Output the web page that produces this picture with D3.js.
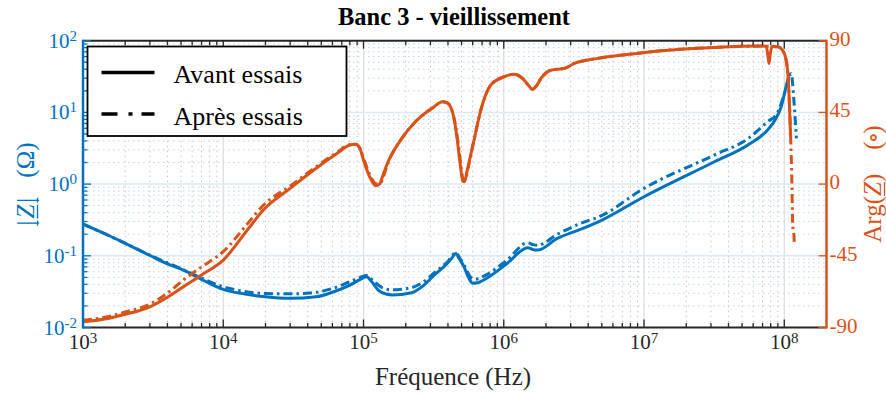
<!DOCTYPE html>
<html><head><meta charset="utf-8">
<script src="https://cdn.jsdelivr.net/npm/d3@7"></script>
<style>html,body{margin:0;padding:0;background:#fff;}svg{display:block;font-family:"Liberation Serif","Times New Roman",serif;}</style>
</head><body><svg id="c" width="886" height="396"></svg>
<script>
// ---------- DATA ----------
const magFreqBefore = [1e3,1.5e3,2e3,3e3,4e3,5.2e3,7e3,1e4,1.4e4,2e4,3e4,4.6e4,6e4,8e4,9.5e4,1.05e5,1.15e5,1.28e5,1.45e5,1.6e5,2.2e5,2.7e5,3.2e5,3.96e5,4.3e5,4.54e5,4.8e5,5.2e5,5.6e5,6e5,6.5e5,7.2e5,1.06e6,1.48e6,1.62e6,1.74e6,2.41e6,3.55e6,4.93e6,1e7,3.18e7,5.5e7,7.6e7,8.8e7,9.5e7,1.03e8,1.09e8];
const magBefore = [0.277,0.195,0.149,0.101,0.077,0.063,0.047,0.0341,0.0295,0.0268,0.0255,0.0268,0.031,0.039,0.047,0.051,0.043,0.033,0.0293,0.0285,0.0306,0.039,0.054,0.0786,0.095,0.108,0.092,0.0705,0.05,0.0413,0.042,0.046,0.0786,0.13,0.122,0.12,0.175,0.235,0.31,0.667,2.05,3.51,5.69,8.5,12,22.8,35];

const magFreqAfter = [1e3,2e3,3e3,5.2e3,7e3,1e4,1.4e4,2e4,3e4,4.6e4,6e4,8e4,9.5e4,1.05e5,1.2e5,1.4e5,1.6e5,2.2e5,2.7e5,3.2e5,3.96e5,4.54e5,4.9e5,5.3e5,5.8e5,6.2e5,7.2e5,1.06e6,1.48e6,1.62e6,1.74e6,2.41e6,3.55e6,4.93e6,1e7,3.18e7,5.5e7,7.6e7,8.9e7,1e8,1.08e8,1.12e8,1.17e8,1.22e8];
const magAfter = [0.277,0.15,0.102,0.064,0.049,0.037,0.032,0.0298,0.0295,0.031,0.035,0.0435,0.05,0.053,0.043,0.035,0.0335,0.036,0.044,0.058,0.082,0.11,0.09,0.07,0.05,0.047,0.052,0.088,0.152,0.143,0.14,0.2,0.284,0.36,0.873,2.55,4.3,7.4,9.7,18,30,35,15,4.35];

const phaseFreqBefore = [1e3,1.5e3,2e3,3e3,4e3,5.2e3,7e3,1e4,1.5e4,1.93e4,3e4,4.6e4,6.5e4,8e4,8.8e4,9.5e4,1e5,1.1e5,1.22e5,1.3e5,1.39e5,1.48e5,1.84e5,2.41e5,3.18e5,3.64e5,3.95e5,4.18e5,4.45e5,4.66e5,4.9e5,5.1e5,5.25e5,5.49e5,6.14e5,6.86e5,8.07e5,1e6,1.19e6,1.36e6,1.5e6,1.6e6,1.72e6,1.84e6,2.17e6,2.7e6,3.18e6,4.67e6,8.07e6,1.32e7,3.18e7,6.9e7,7.45e7,7.65e7,7.78e7,7.95e7,8.2e7,9e7,1e8,1.06e8,1.09e8,1.11e8];
const phaseBefore = [-86.4,-84.3,-81.7,-77,-71,-64.4,-57,-47.7,-28.3,-16.3,-2.7,9.9,19.3,24.5,25,21.5,15.1,5,-1,0,6.7,13,27.6,40.2,48.5,51.7,51,48.5,40,27.6,12,2,1.5,8.8,27.6,46.4,62.1,67.3,69,66.3,62,59.4,62,66.3,71.5,72.6,75.7,78.9,81.6,83.7,85.8,86.6,86.5,80,75.7,82,86.5,86.2,82,69.5,48.5,29.7];

const phaseFreqAfter = [1e3,1.5e3,2e3,3e3,4e3,5.2e3,7e3,1e4,1.5e4,1.93e4,3e4,4.6e4,6.5e4,8e4,8.8e4,9.5e4,1e5,1.1e5,1.25e5,1.33e5,1.42e5,1.5e5,1.84e5,2.41e5,3.18e5,3.64e5,3.95e5,4.18e5,4.45e5,4.7e5,4.95e5,5.15e5,5.3e5,5.55e5,6.14e5,6.86e5,8.07e5,1e6,1.19e6,1.36e6,1.5e6,1.6e6,1.72e6,1.84e6,2.17e6,2.7e6,3.18e6,4.67e6,8.07e6,1.32e7,3.18e7,6.9e7,9e7,1e8,1.06e8,1.09e8,1.11e8,1.13e8,1.15e8,1.17e8,1.18e8];
const phaseAfter = [-85.5,-83.2,-80.3,-75.3,-68.5,-60.2,-52,-42.4,-24.5,-13.3,-1.2,10.9,20,24.8,25,22,16.5,6.5,0,1,7.5,13.5,27.6,40.2,48.5,51.7,51,48.5,40,27.6,12,2.5,2.5,9.5,28,46.4,62.1,67.3,69,66.3,62,59.6,62,66.3,71.5,72.6,75.7,78.9,81.6,83.7,85.8,86.6,86.2,82,69.5,48.5,29.7,6.7,-26.8,-31,-38.5];

const xTickExps = [3,4,5,6,7,8];
const yTickExps = [-2,-1,0,1,2];
const phaseTicks = [-90,-45,0,45,90];
const legendLabels = ["Avant essais","Après essais"];
const titleText = "Banc 3 - vieillissement";
const xLabelText = "Fréquence (Hz)";

// ---------- LAYOUT ----------
const BLUE = "#0072BD", ORANGE = "#D95319", DARK = "#262626";
const L = 83, R = 826.5, T = 40.7, B = 327.5;
const svg = d3.select("#c");
const x = d3.scaleLog().domain([1e3, 2e8]).range([L, R]);
const yL = d3.scaleLog().domain([1e-2, 1e2]).range([B, T]);
const yR = d3.scaleLinear().domain([-90, 90]).range([B, T]);

const xMinor = [];
for (let d = 3; d <= 8; d++) for (let k = 2; k <= 9; k++) { const f = k * Math.pow(10, d); if (f < 2e8) xMinor.push(f); }
const yMinor = [];
for (let d = -2; d <= 1; d++) for (let k = 2; k <= 9; k++) yMinor.push(k * Math.pow(10, d));
const xMajor = xTickExps.map(e => Math.pow(10, e));
const yMajor = yTickExps.map(e => Math.pow(10, e));

// grid
const g = svg.append("g");
g.selectAll(".xmin").data(xMinor).join("line")
  .attr("x1", d => x(d)).attr("x2", d => x(d)).attr("y1", T).attr("y2", B)
  .attr("stroke", "#c4c4c4").attr("stroke-width", 1).attr("stroke-dasharray", "1.5,3.5");
g.selectAll(".ymin").data(yMinor).join("line")
  .attr("x1", L).attr("x2", R).attr("y1", d => yL(d)).attr("y2", d => yL(d))
  .attr("stroke", "#b9d7ee").attr("stroke-width", 1).attr("stroke-dasharray", "1.5,3.5");
g.selectAll(".xmaj").data(xMajor.slice(1)).join("line")
  .attr("x1", d => x(d)).attr("x2", d => x(d)).attr("y1", T).attr("y2", B)
  .attr("stroke", "#dcdcdc").attr("stroke-width", 1.2);
g.selectAll(".ymaj").data(yMajor.slice(1, -1)).join("line")
  .attr("x1", L).attr("x2", R).attr("y1", d => yL(d)).attr("y2", d => yL(d))
  .attr("stroke", "#d9eaf5").attr("stroke-width", 1.5);

// curves
svg.append("clipPath").attr("id", "clp").append("rect")
  .attr("x", L).attr("y", T - 2).attr("width", R - L).attr("height", B - T + 4);
const cg = svg.append("g").attr("clip-path", "url(#clp)");
const magLine = d3.line().x(d => x(d[0])).y(d => yL(d[1])).curve(d3.curveMonotoneX);
const phLine = d3.line().x(d => x(d[0])).y(d => yR(d[1])).curve(d3.curveMonotoneX);
const DASH = "9,4,2.5,4";
cg.append("path").attr("d", magLine(d3.zip(magFreqBefore, magBefore)))
  .attr("fill", "none").attr("stroke", BLUE).attr("stroke-width", 3).attr("stroke-linejoin", "round");
cg.append("path").attr("d", magLine(d3.zip(magFreqAfter, magAfter)))
  .attr("fill", "none").attr("stroke", BLUE).attr("stroke-width", 3).attr("stroke-dasharray", DASH);
cg.append("path").attr("d", phLine(d3.zip(phaseFreqBefore, phaseBefore)))
  .attr("fill", "none").attr("stroke", ORANGE).attr("stroke-width", 3).attr("stroke-linejoin", "round");
cg.append("path").attr("d", phLine(d3.zip(phaseFreqAfter, phaseAfter)))
  .attr("fill", "none").attr("stroke", ORANGE).attr("stroke-width", 3).attr("stroke-dasharray", DASH);

// axes: bottom & top
const ax = svg.append("g");
[B, T].forEach((yy, i) => {
  const dir = i === 0 ? -1 : 1;
  ax.append("line").attr("x1", L).attr("x2", R).attr("y1", yy).attr("y2", yy).attr("stroke", DARK).attr("stroke-width", 2);
  ax.selectAll(null).data(xMajor).join("line")
    .attr("x1", d => x(d)).attr("x2", d => x(d)).attr("y1", yy).attr("y2", yy + dir * 8)
    .attr("stroke", DARK).attr("stroke-width", 1.3);
  ax.selectAll(null).data(xMinor).join("line")
    .attr("x1", d => x(d)).attr("x2", d => x(d)).attr("y1", yy).attr("y2", yy + dir * 4.5)
    .attr("stroke", DARK).attr("stroke-width", 1.3);
});
ax.append("line").attr("x1", L).attr("x2", L).attr("y1", T - 1).attr("y2", B + 1).attr("stroke", BLUE).attr("stroke-width", 2.5);
ax.selectAll(null).data(yMajor).join("line")
  .attr("x1", L).attr("x2", L + 8).attr("y1", d => yL(d)).attr("y2", d => yL(d)).attr("stroke", BLUE).attr("stroke-width", 1.3);
ax.selectAll(null).data(yMinor).join("line")
  .attr("x1", L).attr("x2", L + 4.5).attr("y1", d => yL(d)).attr("y2", d => yL(d)).attr("stroke", BLUE).attr("stroke-width", 1.3);
ax.append("line").attr("x1", R).attr("x2", R).attr("y1", T - 1).attr("y2", B + 1).attr("stroke", ORANGE).attr("stroke-width", 2.5);
ax.selectAll(null).data(phaseTicks).join("line")
  .attr("x1", R).attr("x2", R - 8).attr("y1", d => yR(d)).attr("y2", d => yR(d)).attr("stroke", ORANGE).attr("stroke-width", 1.3);

// tick labels
const xt = svg.append("g").attr("font-size", 21).attr("fill", DARK);
xTickExps.forEach(e => {
  const t = xt.append("text").attr("x", x(Math.pow(10, e))).attr("y", 348.5).attr("text-anchor", "middle");
  t.append("tspan").text("10");
  t.append("tspan").attr("dy", -6).attr("font-size", 15).text(String(e));
});
const ylt = svg.append("g").attr("font-size", 21).attr("fill", BLUE);
yTickExps.forEach(e => {
  const t = ylt.append("text").attr("x", 77).attr("y", yL(Math.pow(10, e)) + 7).attr("text-anchor", "end");
  t.append("tspan").text("10");
  t.append("tspan").attr("dy", -7).attr("font-size", 15).text(String(e));
});
svg.append("g").attr("font-size", 21).attr("fill", ORANGE).selectAll("text").data(phaseTicks).join("text")
  .attr("x", 829.5).attr("y", d => yR(d) + 5).text(d => String(d));

// rotated composite labels
function compositeLabel(cx, cy, segs, color, size) {
  const grp = svg.append("g").attr("transform", `translate(${cx},${cy}) rotate(-90)`)
    .attr("fill", color).attr("font-size", size);
  let pos = 0; const placed = [];
  segs.forEach(s => {
    pos += s.gap || 0;
    const t = grp.append("text").attr("x", pos).attr("y", 0).text(s.t);
    if (s.italic) t.attr("font-style", "italic");
    if (s.size) t.attr("font-size", s.size);
    if (s.family) t.attr("font-family", s.family);
    const w = t.node().getComputedTextLength();
    placed.push({ t, x0: pos, w, u: s.u });
    pos += w;
  });
  const shift = -pos / 2;
  placed.forEach(p => {
    p.t.attr("x", p.x0 + shift);
    if (p.u) grp.append("line").attr("x1", p.x0 + shift).attr("x2", p.x0 + shift + p.w)
      .attr("y1", 3.5).attr("y2", 3.5).attr("stroke", color).attr("stroke-width", 1.3);
  });
}
compositeLabel(34, 184, [
  { t: "|", u: true }, { t: "Z", italic: true, u: true, gap: 2 }, { t: "|", u: true, gap: 2 },
  { t: "(Ω)", gap: 20 }
], BLUE, 25);
compositeLabel(881, 184, [
  { t: "Arg(" }, { t: "Z", italic: true, u: true }, { t: ")" },
  { t: "(", gap: 24 }, { t: "∘", gap: -2, size: 24, family: "DejaVu Serif" }, { t: ")", gap: -2 }
], ORANGE, 25);

// x label & title
svg.append("text").attr("x", 453).attr("y", 385).attr("text-anchor", "middle")
  .attr("font-size", 25).attr("fill", DARK).text(xLabelText);
svg.append("text").attr("x", 454).attr("y", 25).attr("text-anchor", "middle")
  .attr("font-size", 24.5).attr("font-weight", "bold").attr("fill", "#000").text(titleText);

// legend
const lg = svg.append("g");
lg.append("rect").attr("x", 87.5).attr("y", 46.5).attr("width", 259).attr("height", 89.5)
  .attr("fill", "#fff").attr("stroke", "#000").attr("stroke-width", 1.8);
const legY = [72.5, 114];
const legDash = [null, "16,11,4,9"];
legendLabels.forEach((lab, i) => {
  const ln = lg.append("line").attr("x1", 101.5).attr("x2", 154.5).attr("y1", legY[i]).attr("y2", legY[i])
    .attr("stroke", "#000").attr("stroke-width", 3.5);
  if (legDash[i]) ln.attr("stroke-dasharray", legDash[i]);
  lg.append("text").attr("x", 173.5).attr("y", legY[i] + 10.5).attr("font-size", 26).attr("fill", "#000").text(lab);
});
</script></body></html>
